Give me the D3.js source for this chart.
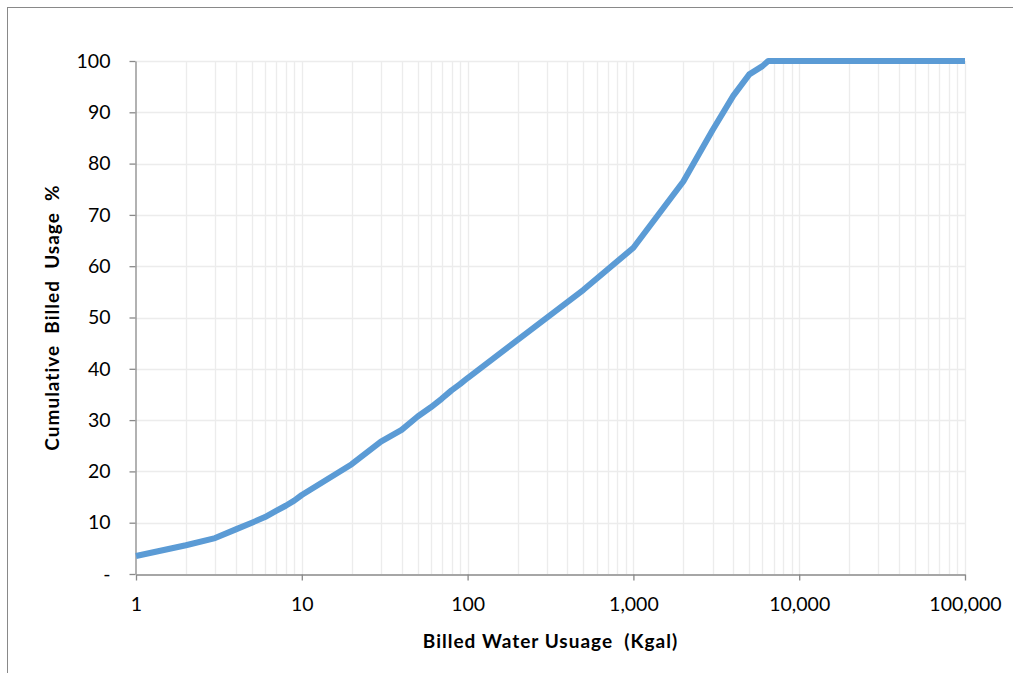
<!DOCTYPE html>
<html>
<head>
<meta charset="utf-8">
<script src="https://cdn.jsdelivr.net/npm/d3@7"></script>
<style>
  body { margin: 0; background: #fff; }
  text { font-family: Lato, "Open Sans", sans-serif; fill: #000; }
</style>
</head>
<body>
<script>
// billed water usage (Kgal) vs cumulative billed usage %
var usage = [1, 2, 3, 4, 5, 6, 7, 8, 9, 10,
             20, 30, 40, 50, 60, 70, 80, 90, 100,
             500, 1000, 2000, 3000, 4000, 5000, 6000, 6500, 7000,
             8000, 9000, 10000, 100000];
var cumulative = [3.5, 5.6, 7.0, 8.7, 10.0, 11.1, 12.3, 13.3, 14.3, 15.4,
                  21.4, 25.8, 28.1, 30.7, 32.5, 34.2, 35.8, 37.0, 38.2,
                  55.4, 63.6, 76.5, 86.5, 93.2, 97.4, 99.0, 100, 100,
                  100, 100, 100, 100];
var xTicks = [1, 10, 100, 1000, 10000, 100000];
var yTicks = [0, 10, 20, 30, 40, 50, 60, 70, 80, 90, 100];

var W = 1013, H = 673;
var svg = d3.select('body').append('svg')
  .attr('width', W).attr('height', H);

// outer chart frame (runs off the right/bottom of the picture)
svg.append('rect')
  .attr('x', 7.5).attr('y', 7.5)
  .attr('width', W + 10).attr('height', H + 10)
  .attr('fill', 'none').attr('stroke', '#898989').attr('stroke-width', 1);

var x = d3.scaleLog().domain([1, 100000]).range([136, 965]);
var y = d3.scaleLinear().domain([0, 100]).range([574, 61]);

// minor + major vertical gridlines, 1..9 per decade
var vLines = [];
xTicks.forEach(function (d) {
  for (var k = 1; k < 10; k++) {
    if (d * k <= 100000 && d * k > 1) vLines.push(d * k);
  }
});
var grid = svg.append('g').attr('stroke', '#ececec').attr('stroke-width', 1.3);
grid.selectAll('line.v').data(vLines).enter().append('line')
  .attr('class', 'v')
  .attr('x1', function (d) { return Math.round(x(d)) + 0.5; })
  .attr('x2', function (d) { return Math.round(x(d)) + 0.5; })
  .attr('y1', y(100)).attr('y2', y(0));
grid.selectAll('line.h').data(yTicks.slice(1)).enter().append('line')
  .attr('class', 'h')
  .attr('x1', x(1)).attr('x2', x(100000))
  .attr('y1', function (d) { return Math.round(y(d)) + 0.5; })
  .attr('y2', function (d) { return Math.round(y(d)) + 0.5; });

// axes
var fmt = d3.format(',');
var xAxis = svg.append('g')
  .attr('transform', 'translate(0,' + (y(0) + 0.5) + ')')
  .call(d3.axisBottom(x).tickValues(xTicks).tickFormat(fmt)
        .tickSize(6).tickPadding(17).tickSizeOuter(0));
var yAxis = svg.append('g')
  .attr('transform', 'translate(' + (x(1) - 0.5) + ',0)')
  .call(d3.axisLeft(y).tickValues(yTicks)
        .tickFormat(function (d) { return d === 0 ? '-' : d; })
        .tickSize(6).tickPadding(19).tickSizeOuter(0));
[xAxis, yAxis].forEach(function (a) {
  a.selectAll('path, line').attr('stroke', '#898989').attr('stroke-width', 1.3);
  a.selectAll('text').style('font-size', '19.5px').style('font-family', 'Lato, sans-serif');
});

// the curve (straight segments, corners as in the original)
var line = d3.line()
  .x(function (d, i) { return x(usage[i]); })
  .y(function (d) { return y(d); });
svg.append('path')
  .datum(cumulative)
  .attr('d', line)
  .attr('fill', 'none')
  .attr('stroke', '#5b9bd5')
  .attr('stroke-width', 6)
  .attr('stroke-linejoin', 'round');

// axis titles
svg.append('text')
  .attr('x', (x(1) + x(100000)) / 2).attr('y', 648)
  .attr('text-anchor', 'middle')
  .style('font-size', '19px').style('font-weight', 'bold')
  .style('letter-spacing', '1px')
  .attr('xml:space', 'preserve')
  .text('Billed Water Usuage  (Kgal)');
svg.append('text')
  .attr('transform', 'translate(59,' + ((y(0) + y(100)) / 2) + ') rotate(-90)')
  .attr('text-anchor', 'middle')
  .style('font-size', '19px').style('font-weight', 'bold')
  .style('letter-spacing', '1px')
  .attr('xml:space', 'preserve')
  .text('Cumulative  Billed  Usage  %');
</script>
</body>
</html>
